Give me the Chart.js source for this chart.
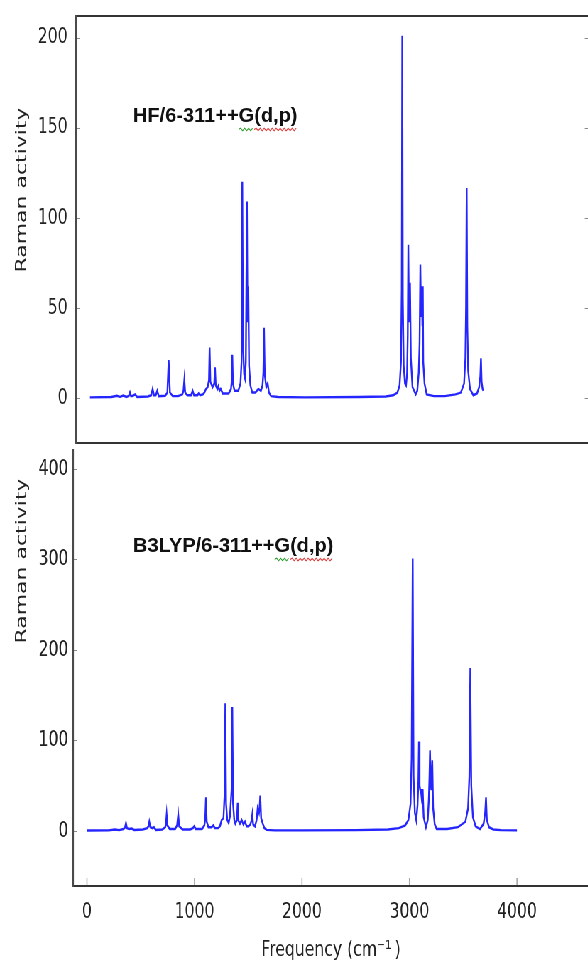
<!DOCTYPE html>
<html>
<head>
<meta charset="utf-8">
<script src="https://cdn.jsdelivr.net/npm/chart.js@4.4.1/dist/chart.umd.min.js"></script>
<style>
html, body { margin: 0; padding: 0; background: #fff; overflow: hidden; width: 588px; height: 967px; }
#wrap { position: absolute; left: 0; top: 0; width: 840px; height: 967px; transform: scaleX(0.71); transform-origin: 0 0; }
#wrap canvas { position: absolute; left: 0; }
</style>
</head>
<body>
<div id="wrap">
  <canvas id="hf" width="840" height="447" style="top:0"></canvas>
  <canvas id="b3" width="840" height="520" style="top:447px"></canvas>
</div>
<script>
// HF/6-311++G(d,p) spectrum
var hfFreq = [0, 200, 250, 280, 310, 340, 362, 372, 382, 400,
    420, 440, 540, 570, 583, 596, 612, 626, 640, 700,
    720, 732, 744, 770, 820, 860, 870, 878, 886, 905,
    940, 955, 968, 1000, 1011, 1025, 1050, 1065, 1079, 1095,
    1107, 1113, 1120, 1140, 1156, 1163, 1170, 1185, 1194, 1205,
    1216, 1235, 1290, 1312, 1318, 1324, 1330, 1345, 1380, 1400,
    1410, 1417, 1424, 1434, 1442, 1450, 1460, 1466, 1473, 1480,
    1492, 1510, 1540, 1566, 1590, 1605, 1613, 1619, 1626, 1640,
    1653, 1665, 1685, 1750, 2000, 2500, 2750, 2820, 2860, 2880,
    2893, 2900, 2905, 2910, 2918, 2930, 2940, 2950, 2956, 2961,
    2968, 2977, 2985, 3000, 3030, 3045, 3058, 3066, 3073, 3080,
    3088, 3092, 3096, 3100, 3112, 3132, 3200, 3300, 3400, 3450,
    3480, 3492, 3498, 3504, 3510, 3518, 3535, 3566, 3600, 3620,
    3631, 3637, 3643, 3652, 3659];
var hfAct = [0.3, 0.5, 1.2, 0.6, 1.3, 0.6, 1.2, 3, 1, 1.2,
    2, 0.5, 0.8, 1.5, 5, 1.5, 1.5, 4, 1, 1.2,
    3, 21, 3, 1, 1, 2, 4, 10, 3, 1.5,
    1.5, 4, 1.5, 1.5, 2.5, 1.5, 2, 3, 5, 6,
    10, 28, 9, 6, 8, 17, 7, 5, 6.5, 4,
    5, 2.5, 2.5, 5, 9, 24, 8, 4, 4, 8,
    20, 120, 30, 13, 11, 20, 109, 42, 62, 18,
    7, 3, 3, 5, 4, 7, 14, 39, 13, 6,
    8, 3, 1, 0.5, 0.3, 0.5, 0.8, 1.5, 3, 7,
    20, 60, 201, 55, 18, 8, 7, 14, 35, 85,
    42, 64, 22, 6, 2, 4, 14, 30, 74, 45,
    62, 40, 62, 20, 8, 2, 1, 1, 2, 3,
    8, 22, 50, 116.5, 40, 15, 5, 1.5, 2.5, 6,
    12, 22, 9, 5, 4];

// B3LYP/6-311++G(d,p) spectrum, lower panel
var b3Freq = [0, 200, 260, 300, 340, 355, 363, 372, 390, 416,
    440, 520, 560, 572, 580, 590, 610, 623, 640, 700,
    728, 735, 741, 748, 770, 820, 838, 849, 858, 890,
    960, 985, 998, 1012, 1070, 1092, 1100, 1107, 1114, 1130,
    1160, 1175, 1190, 1220, 1237, 1253, 1270, 1280, 1287, 1294,
    1305, 1318, 1330, 1345, 1352, 1359, 1370, 1380, 1395, 1402,
    1410, 1423, 1439, 1455, 1470, 1485, 1501, 1520, 1532, 1538,
    1546, 1563, 1578, 1588, 1600, 1607, 1612, 1620, 1635, 1650,
    1671, 1750, 2000, 2500, 2800, 2900, 2960, 2990, 3010, 3020,
    3030, 3038, 3050, 3063, 3075, 3083, 3088, 3094, 3100, 3106,
    3112, 3118, 3123, 3132, 3153, 3170, 3180, 3186, 3191, 3197,
    3203, 3212, 3220, 3235, 3253, 3350, 3450, 3520, 3545, 3557,
    3566, 3575, 3590, 3615, 3656, 3690, 3704, 3712, 3720, 3740,
    3780, 3850, 4000];
var b3Act = [0.3, 0.5, 1.5, 0.8, 2, 4, 8.5, 3, 2, 2.5,
    1, 1.5, 3, 5, 10, 4, 3, 4, 1, 1.5,
    4, 8, 17.7, 6, 2, 2, 6, 18, 5, 1.5,
    1.5, 3, 5, 2, 2, 6, 13, 37, 10, 4,
    4, 6, 3, 3, 5, 12, 14, 40, 141, 30,
    12, 8.5, 16, 45, 137, 30, 12, 8, 12, 31,
    11, 8, 12, 7, 10, 5, 5, 7, 12, 18,
    7, 5, 12, 25, 20, 28, 39, 14, 8, 3,
    1, 0.5, 0.5, 0.8, 1.5, 3, 6, 12, 30, 80,
    301, 60, 20, 12, 28, 55, 98.7, 50, 45, 45,
    38, 45, 45, 15, 4, 12, 35, 60, 89, 55,
    45, 78, 25, 7, 2, 2, 4, 10, 25, 60,
    180, 50, 15, 5, 2, 8, 20, 37, 12, 4,
    1.5, 0.8, 0.5];

var hfTicks = [0, 50, 100, 150, 200];
var b3Ticks = [0, 100, 200, 300, 400];
var freqTicks = [0, 1000, 2000, 3000, 4000];

var hfLabel = 'HF/6-311++G(d,p)';
var b3Label = 'B3LYP/6-311++G(d,p)';
var yTitle = 'Raman activity';
var xTitle = 'Frequency (cm\u207B\u00B9\u2009)';

// the page is squeezed horizontally, like the reference picture
var SQUEEZE = 0.71;
var TICK_FONT = { family: 'DejaVu Sans', size: 22 };
var INK = '#222';

function squiggle(ctx, x0, x1, y, color) {
    ctx.strokeStyle = color;
    ctx.lineWidth = 1;
    ctx.beginPath();
    ctx.moveTo(x0, y);
    var up = true;
    for (var x = x0 + 2; x <= x1; x += 2) {
        ctx.lineTo(x, y + (up ? -1.3 : 1.3));
        up = !up;
    }
    ctx.stroke();
}

function drawMethodLabel(ctx, text, xImg, yBase) {
    ctx.save();
    ctx.translate(xImg / SQUEEZE, yBase);
    ctx.scale(1 / SQUEEZE, 1);
    ctx.font = 'bold 20px "Liberation Sans", Arial, sans-serif';
    ctx.fillStyle = '#111';
    ctx.textBaseline = 'alphabetic';
    ctx.textAlign = 'left';
    ctx.fillText(text, 0, 0);
    var gi = text.indexOf('G');
    var g0 = ctx.measureText(text.slice(0, gi)).width;
    var g1 = ctx.measureText(text.slice(0, gi + 1)).width;
    var w = ctx.measureText(text).width;
    squiggle(ctx, g0, g1, 8, '#2e9e2e');
    squiggle(ctx, g1, w, 8, '#e33a3a');
    ctx.restore();
}

function decorPlugin(o) {
    return {
        id: 'decor',
        afterDraw: function (chart) {
            var ctx = chart.ctx, a = chart.chartArea;
            var xs = chart.scales.x, ys = chart.scales.y;
            ctx.save();

            // inward tick marks, matplotlib style
            ctx.strokeStyle = '#8c8c8c';
            ctx.lineWidth = 1;
            ys.ticks.forEach(function (t) {
                var py = Math.round(ys.getPixelForValue(t.value)) + 0.5;
                ctx.beginPath();
                ctx.moveTo(a.left, py);
                ctx.lineTo(a.left + 6, py);
                if (o.rightTicks) {
                    ctx.moveTo(a.right - 6, py);
                    ctx.lineTo(a.right, py);
                }
                ctx.stroke();
            });
            if (o.bottomTicks) {
                ctx.strokeStyle = '#a8a8a8';
                ctx.lineWidth = 1.6;
                xs.ticks.forEach(function (t) {
                    var px = xs.getPixelForValue(t.value);
                    ctx.beginPath();
                    ctx.moveTo(px, a.bottom);
                    ctx.lineTo(px, a.bottom - 8);
                    ctx.stroke();
                });
            }

            // spines
            ctx.strokeStyle = '#333';
            ctx.lineWidth = 2;
            ctx.beginPath();
            if (o.topSpine) {
                ctx.moveTo(a.left, a.top);
                ctx.lineTo(a.right, a.top);
            }
            ctx.moveTo(a.left, a.bottom);
            ctx.lineTo(a.right, a.bottom);
            ctx.stroke();
            ctx.strokeStyle = '#4a4a4a';
            ctx.lineWidth = 2.6;
            ctx.beginPath();
            ctx.moveTo(a.left, a.top - 1);
            ctx.lineTo(a.left, a.bottom + 1);
            ctx.stroke();

            // y title
            ctx.save();
            ctx.translate(22 / SQUEEZE, o.yTitleY);
            ctx.rotate(-Math.PI / 2);
            ctx.font = '22px "DejaVu Sans"';
            ctx.fillStyle = INK;
            ctx.textAlign = 'center';
            ctx.textBaseline = 'middle';
            ctx.fillText(yTitle, 0, 0);
            ctx.restore();

            drawMethodLabel(ctx, o.label, 133, o.labelY);
            ctx.restore();
        }
    };
}

function noPad(s) {
    s.paddingTop = 0;
    s.paddingBottom = 0;
    s.paddingLeft = 0;
    s.paddingRight = 0;
}

function makeChart(id, freq, act, o) {
    var points = freq.map(function (f, i) { return { x: f, y: act[i] }; });
    return new Chart(document.getElementById(id), {
        type: 'line',
        data: {
            datasets: [{
                data: points,
                borderColor: '#2525ff',
                borderWidth: 2.4,
                pointRadius: 0,
                tension: 0,
                fill: false
            }]
        },
        options: {
            responsive: false,
            animation: false,
            events: [],
            layout: { padding: o.padding },
            plugins: { legend: { display: false }, tooltip: { enabled: false } },
            scales: {
                x: {
                    type: 'linear',
                    min: -130,
                    max: o.xMax,
                    display: o.showX,
                    afterBuildTicks: function (s) {
                        s.ticks = freqTicks.map(function (v) { return { value: v }; });
                    },
                    afterFit: function (s) {
                        noPad(s);
                        if (o.showX) s.height = o.xAxisHeight;
                    },
                    grid: { display: false, drawTicks: false },
                    border: { display: false },
                    ticks: {
                        font: TICK_FONT, color: INK, padding: 13, maxRotation: 0, autoSkip: false,
                        callback: function (v) { return String(v); }
                    },
                    title: {
                        display: true, text: xTitle, font: TICK_FONT, color: INK,
                        padding: { top: 0, bottom: 4 }
                    }
                },
                y: {
                    type: 'linear',
                    min: o.yMin,
                    max: o.yMax,
                    afterBuildTicks: function (s) {
                        s.ticks = o.yTicks.map(function (v) { return { value: v }; });
                    },
                    afterFit: function (s) {
                        noPad(s);
                        s.width = o.yAxisWidth;
                    },
                    grid: { display: false, drawTicks: false },
                    border: { display: false },
                    ticks: {
                        font: TICK_FONT, color: INK, padding: o.yPad, autoSkip: false,
                        callback: function (v) { return String(v); }
                    }
                }
            }
        },
        plugins: [decorPlugin(o)]
    });
}

makeChart('hf', hfFreq, hfAct, {
    padding: { top: 16, right: 10.4, bottom: 4, left: 0 },
    xMax: 4642, showX: false,
    yMin: -25, yMax: 212, yTicks: hfTicks,
    yAxisWidth: 107, yPad: 11.7,
    rightTicks: true, bottomTicks: false, topSpine: true,
    yTitleY: 190, label: hfLabel, labelY: 121.5
});

makeChart('b3', b3Freq, b3Act, {
    padding: { top: 3, right: 10.4, bottom: 0, left: 0 },
    xMax: 4670, showX: true, xAxisHeight: 81,
    yMin: -61, yMax: 421, yTicks: b3Ticks,
    yAxisWidth: 102.8, yPad: 6.6,
    rightTicks: false, bottomTicks: true, topSpine: false,
    yTitleY: 114, label: b3Label, labelY: 104.5
});
</script>
</body>
</html>
